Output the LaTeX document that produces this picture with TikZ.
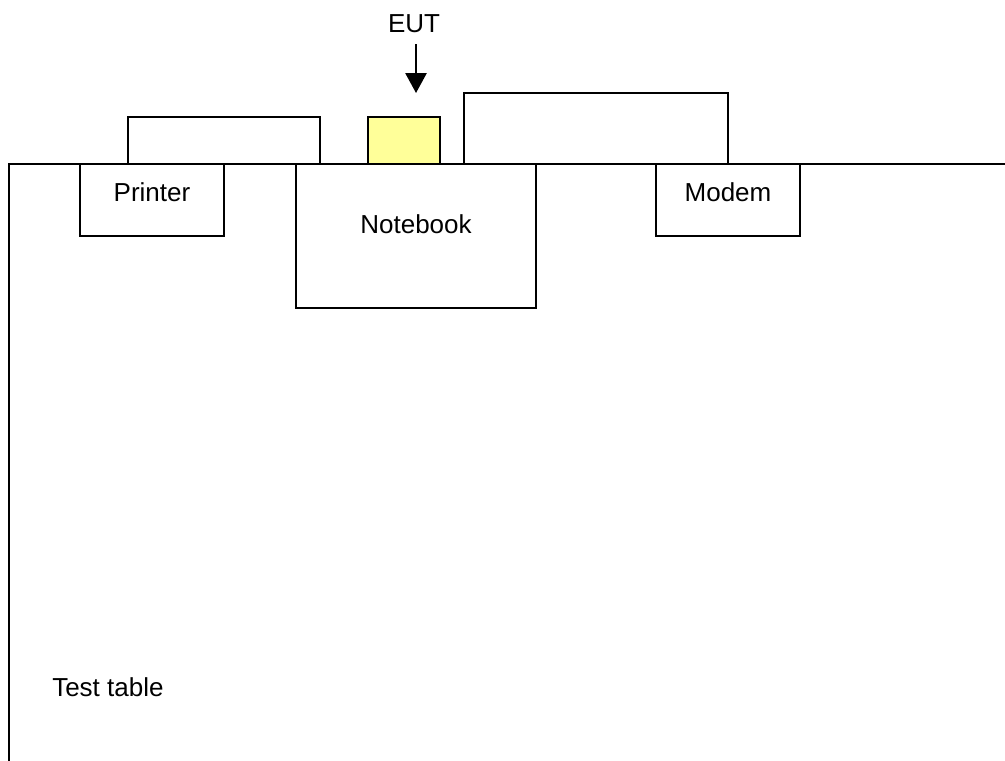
\documentclass[tikz,border=0pt]{standalone}
\usepackage{fontspec}
\setmainfont{Liberation Sans}
\usetikzlibrary{arrows.meta}
\definecolor{eutyellow}{HTML}{FFFF99}
\begin{document}
\begin{tikzpicture}[x=0.75pt,y=-0.75pt,
  every node/.style={font=\fontsize{19.5pt}{23pt}\selectfont},
  wire/.style={draw=black,line width=1.3pt},
  box/.style={draw=black,line width=1.3pt,fill=white,inner sep=0pt,outer sep=0pt,anchor=north west},
  lbl/.style={inner sep=0pt,anchor=center}]
\useasboundingbox (0,0) rectangle (1005,760);
% table
\draw[wire] (9,762) -- (9,164) -- (1007,164);
\node[lbl,anchor=west] (tt) at (52,687) {Test table};
% boxes
\node[box,minimum width=144*0.75pt,minimum height=72*0.75pt] (printer) at (80,164) {};
\node[box,minimum width=240*0.75pt,minimum height=144*0.75pt] (notebook) at (296,164) {};
\node[box,minimum width=144*0.75pt,minimum height=72*0.75pt] (modem) at (656,164) {};
\node[box,fill=eutyellow,minimum width=72*0.75pt,minimum height=47*0.75pt,anchor=south west] (eut) at (368,164) {};
\node[lbl] at (152,192) {Printer};
\node[lbl] at (416,224) {Notebook};
\node[lbl] at (728,192) {Modem};
% cables
\draw[wire] ([xshift=36pt]printer.north west) -- ++(0,-47) -| ([xshift=18pt]notebook.north west);
\draw[wire] ([xshift=-54pt]notebook.north east) -- ++(0,-71) -| ([xshift=54pt]modem.north west);
% EUT label and arrow
\node[lbl] (eutlbl) at (414,24) {EUT};
\coordinate (tip) at (416,93);
\draw[line width=1.3pt,-{Triangle[width=16pt,length=15pt]}] (416,44) -- (tip);
\end{tikzpicture}
\end{document}
